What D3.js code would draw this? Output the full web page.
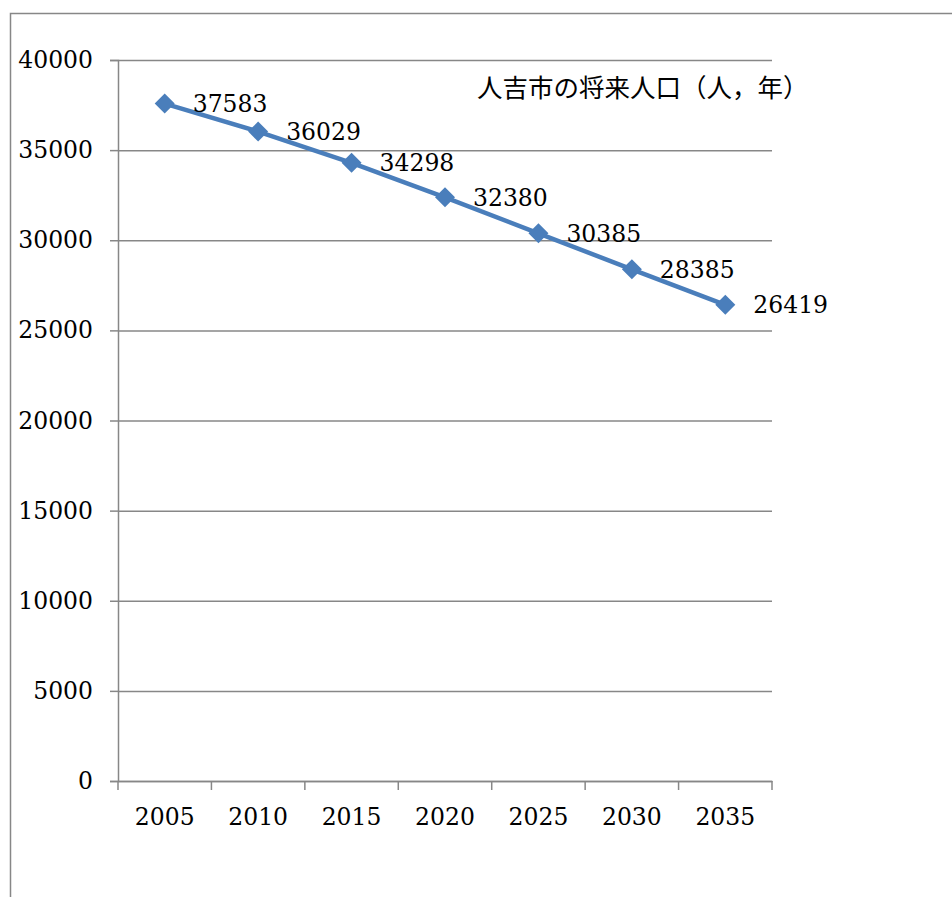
<!DOCTYPE html>
<html>
<head>
<meta charset="utf-8">
<script src="https://cdn.jsdelivr.net/npm/d3@7"></script>
<style>
  body { margin: 0; background: #fff; }
  .tick-label { font-family: "DejaVu Serif", "Liberation Serif", serif; font-size: 23.5px; fill: #000; }
</style>
</head>
<body>
<div id="chart"></div>
<script>
const years = ['2005', '2010', '2015', '2020', '2025', '2030', '2035'];
const population = [37583, 36029, 34298, 32380, 30385, 28385, 26419];
const yTicks = [0, 5000, 10000, 15000, 20000, 25000, 30000, 35000, 40000];
const title = '人吉市の将来人口（人，年）';

const width = 952, height = 897;
const margin = { top: 60, right: 180, bottom: 116, left: 118 };
const lineColor = '#4a7ebb';
const gridColor = '#878787';

const svg = d3.select('#chart').append('svg')
  .attr('width', width)
  .attr('height', height);

// outer frame
svg.append('rect')
  .attr('x', 10.5).attr('y', 13.5)
  .attr('width', width + 20).attr('height', height + 20)
  .attr('fill', 'none')
  .attr('stroke', gridColor)
  .attr('stroke-width', 1.5);

const x = d3.scaleBand().domain(years).range([margin.left, width - margin.right]);
const y = d3.scaleLinear().domain([0, 40000]).range([height - margin.bottom, margin.top]);

// gridlines + y ticks
const yAxis = d3.axisLeft(y).tickValues(yTicks).tickSize(8).tickPadding(17).tickFormat(d3.format('d'));
const gy = svg.append('g')
  .attr('transform', `translate(${margin.left},0)`)
  .call(yAxis);
gy.select('.domain').attr('stroke', gridColor).attr('stroke-width', 1.5);
gy.selectAll('.tick line').attr('stroke', gridColor).attr('stroke-width', 1.5);
gy.selectAll('.tick text').attr('class', 'tick-label');
gy.selectAll('.tick').append('line')
  .attr('x1', 0).attr('x2', width - margin.right - margin.left)
  .attr('stroke', gridColor).attr('stroke-width', 1.5);

// x axis
const xAxis = d3.axisBottom(x).tickSize(0).tickPadding(27);
const gx = svg.append('g')
  .attr('transform', `translate(0,${height - margin.bottom})`)
  .call(xAxis);
gx.select('.domain').attr('stroke', gridColor).attr('stroke-width', 1.5);
gx.selectAll('.tick text').attr('class', 'tick-label');
// tick marks at band boundaries
const bounds = years.map(d => x(d)).concat([x(years[years.length - 1]) + x.bandwidth()]);
gx.selectAll('.bound').data(bounds).join('line')
  .attr('class', 'bound')
  .attr('x1', d => d).attr('x2', d => d)
  .attr('y1', 0).attr('y2', 9)
  .attr('stroke', gridColor).attr('stroke-width', 1.5);

const pts = years.map((d, i) => ({ year: d, val: population[i] }));

const line = d3.line()
  .x(d => x(d.year) + x.bandwidth() / 2)
  .y(d => y(d.val));

svg.append('path')
  .datum(pts)
  .attr('fill', 'none')
  .attr('stroke', lineColor)
  .attr('stroke-width', 4.5)
  .attr('stroke-linejoin', 'round')
  .attr('d', line);

svg.selectAll('.marker').data(pts).join('path')
  .attr('class', 'marker')
  .attr('transform', d => `translate(${x(d.year) + x.bandwidth() / 2},${y(d.val)})`)
  .attr('d', 'M0,-10L10,0L0,10L-10,0Z')
  .attr('fill', lineColor);

svg.selectAll('.val').data(pts).join('text')
  .attr('class', 'val tick-label')
  .attr('x', d => x(d.year) + x.bandwidth() / 2 + 28)
  .attr('y', d => y(d.val))
  .attr('dy', '0.36em')
  .text(d => d.val);

svg.append('text')
  .attr('x', 477)
  .attr('y', 88)
  .attr('dy', '0.36em')
  .attr('font-family', '"Noto Sans CJK JP", sans-serif')
  .attr('font-size', 25.5)
  .attr('fill', '#000')
  .text(title);
</script>
</body>
</html>
